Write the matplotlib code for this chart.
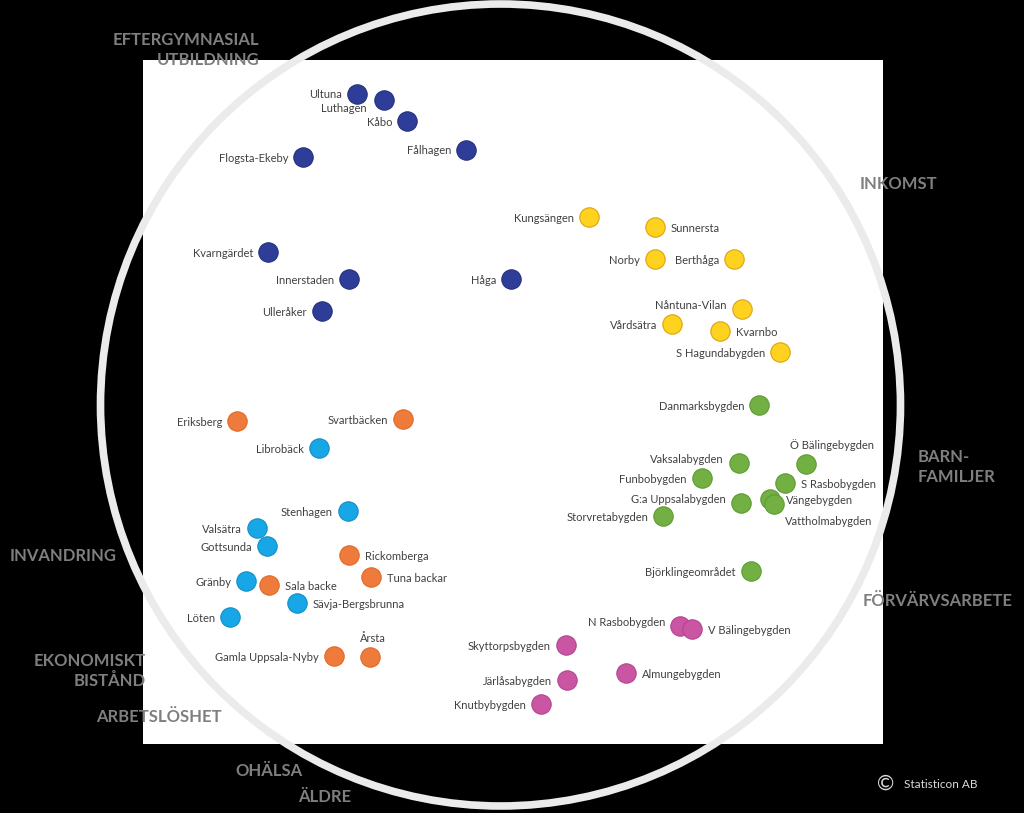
import matplotlib.pyplot as plt
from matplotlib.patches import Rectangle, Ellipse

plt.rcParams['font.family'] = ['Lato', 'DejaVu Sans']

# positions of the areas on the map (image pixel space, y downwards)
# each entry: name, x, y, label position ('l' = left of point, 'r' = right, 'a' = above)
blue = [("Ultuna", 357, 94, 'l'), ("Luthagen", 384, 100, 'lb'), ("Kåbo", 407, 121, 'l'),
        ("Fålhagen", 466, 150, 'l'), ("Flogsta-Ekeby", 303, 157, 'l'),
        ("Kvarngärdet", 268, 252, 'l'), ("Innerstaden", 349, 279, 'l'),
        ("Håga", 511, 279, 'l'), ("Ulleråker", 322, 311, 'l')]
yellow = [("Kungsängen", 589, 217, 'l'), ("Sunnersta", 655, 227, 'r'), ("Norby", 655, 259, 'l'),
          ("Berthåga", 734, 259, 'l'), ("Nåntuna-Vilan", 742, 309, 'lu'),
          ("Vårdsätra", 672, 324, 'l'), ("Kvarnbo", 720, 331, 'r'),
          ("S Hagundabygden", 780, 352, 'l')]
orange = [("Eriksberg", 237, 421, 'l'), ("Svartbäcken", 403, 419, 'l'),
          ("Rickomberga", 349, 555, 'r'), ("Tuna backar", 371, 577, 'r'),
          ("Sala backe", 269, 585, 'r'), ("Gamla Uppsala-Nyby", 334, 656, 'l'),
          ("Årsta", 370, 657, 'a')]
lightblue = [("Librobäck", 319, 448, 'l'), ("Stenhagen", 348, 511, 'l'), ("Valsätra", 257, 528, 'l'),
             ("Gottsunda", 267, 546, 'l'), ("Gränby", 246, 581, 'l'),
             ("Sävja-Bergsbrunna", 297, 603, 'r'), ("Löten", 230, 617, 'l')]
green = [("Danmarksbygden", 759, 405, 'l'), ("Vaksalabygden", 739, 463, 'lu'),
         ("Ö Bälingebygden", 806, 464, 'a'), ("Funbobygden", 702, 478, 'l'),
         ("S Rasbobygden", 785, 483, 'r'), ("G:a Uppsalabygden", 741, 503, 'lu'),
         ("Vängebygden", 770, 499, 'r'), ("Vattholmabygden", 774, 504, 'rb'),
         ("Storvretabygden", 663, 516, 'l'), ("Björklingeområdet", 751, 571, 'l')]
magenta = [("N Rasbobygden", 680, 626, 'lu'), ("V Bälingebygden", 692, 629, 'r'),
           ("Skyttorpsbygden", 566, 645, 'l'), ("Almungebygden", 626, 673, 'r'),
           ("Järlåsabygden", 567, 680, 'l'), ("Knutbybygden", 541, 704, 'l')]

groups = [(blue, '#2E3D98', '#25317a'), (yellow, '#FFD21F', '#D9A514'),
          (orange, '#EE7A3C', '#E06A2A'), (lightblue, '#17A7E6', '#0F90C8'),
          (green, '#72B043', '#5E9A35'), (magenta, '#C955A3', '#B44690')]

# dimension labels around the ring: text, x, y, ha
dims = [("EFTERGYMNASIAL\nUTBILDNING", 259, 50, 'right'), ("INKOMST", 898, 184, 'center'),
        ("BARN-\nFAMILJER", 918, 467, 'left'), ("FÖRVÄRVSARBETE", 938, 601, 'center'),
        ("INVANDRING", 63, 556, 'center'), ("EKONOMISKT\nBISTÅND", 146, 671, 'right'),
        ("ARBETSLÖSHET", 159, 717, 'center'), ("OHÄLSA", 269, 771, 'center'),
        ("ÄLDRE", 325, 797, 'center')]

fig = plt.figure(figsize=(10.24, 8.13), dpi=100, facecolor='black')
ax = fig.add_axes([0, 0, 1, 1])
ax.set_xlim(0, 1024)
ax.set_ylim(813, 0)
ax.set_facecolor('black')
ax.axis('off')

ax.add_patch(Rectangle((143, 60), 740, 684, facecolor='white', edgecolor='none', zorder=1))
ax.add_patch(Ellipse((500.5, 405), 800, 802, facecolor='none', edgecolor='#ebebeb',
                     linewidth=5.5, zorder=2))

for pts, fc, ec in groups:
    xs = [p[1] for p in pts]
    ys = [p[2] for p in pts]
    ax.scatter(xs, ys, s=195, c=fc, edgecolors=ec, linewidths=0.8, zorder=4)
    for name, x, y, pos in pts:
        kw = dict(fontsize=8, color='#404040', va='center', zorder=5)
        if pos == 'l':
            ax.text(x - 15, y + 1, name, ha='right', **kw)
        elif pos == 'lu':
            ax.text(x - 15, y - 4, name, ha='right', **kw)
        elif pos == 'lb':
            ax.text(x - 17, y + 9, name, ha='right', **kw)
        elif pos == 'r':
            ax.text(x + 16, y + 1, name, ha='left', **kw)
        elif pos == 'rb':
            ax.text(x + 11, y + 17, name, ha='left', **kw)
        else:
            ax.text(x + 3 if name == "Årsta" else x + 26, y - 19, name, ha='center', **kw)

for txt, x, y, ha in dims:
    ax.text(x, y, txt, ha=ha, va='center', fontsize=12, fontweight='bold',
            color='#7f7f7f', linespacing=1.35, zorder=6)

ax.text(886, 784, "©", ha='center', va='center', fontsize=15, color='#d9d9d9')
ax.text(904, 784, "Statisticon AB", ha='left', va='center', fontsize=8.5, color='#d9d9d9')

fig.savefig('out.png', dpi=100, facecolor='black')
